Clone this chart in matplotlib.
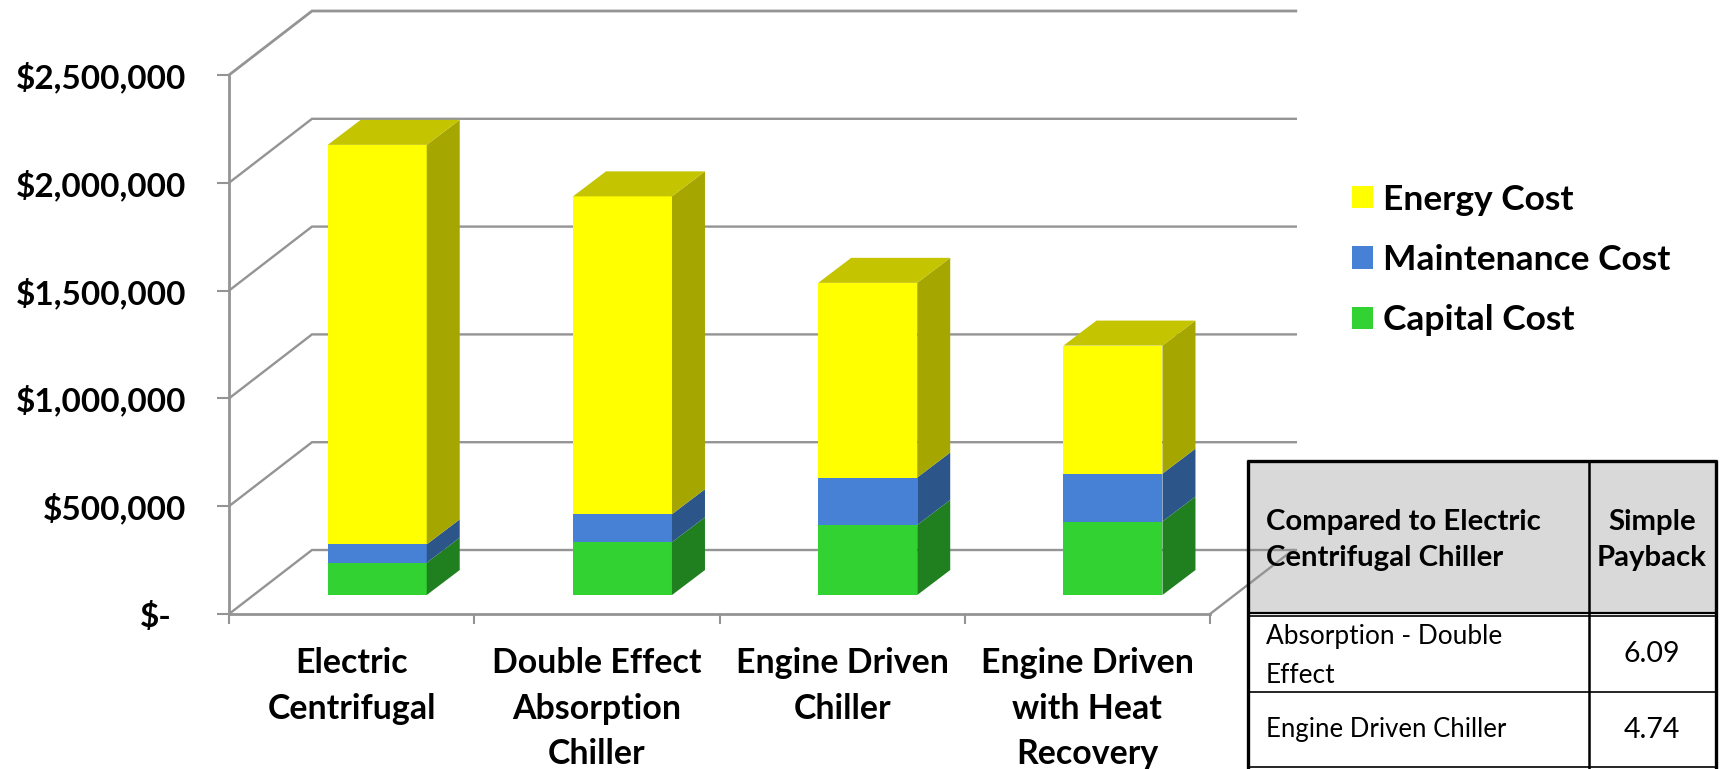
import matplotlib
matplotlib.use('Agg')
import matplotlib.pyplot as plt
from matplotlib.patches import Polygon, Rectangle
from matplotlib.transforms import Affine2D

categories = ['Electric\nCentrifugal', 'Double Effect\nAbsorption\nChiller',
              'Engine Driven\nChiller', 'Engine Driven\nwith Heat\nRecovery']
capital = [150000, 245000, 325000, 341000]
maintenance = [85000, 130000, 220000, 222000]
energy = [1853000, 1474000, 903000, 594000]
y_ticks = [0, 500000, 1000000, 1500000, 2000000, 2500000]
y_labels = ['$-', '$500,000', '$1,000,000', '$1,500,000', '$2,000,000', '$2,500,000']

table_header = ['Compared to Electric\nCentrifugal Chiller', 'Simple\nPayback']
table_names = ['Absorption - Double\nEffect', 'Engine Driven Chiller']
table_payback = ['6.09', '4.74']

FONT = 'Lato'
W, H = 1725, 769
GRID = '#949494'
SERIES = [('Capital Cost', capital, '#31D231', '#208020'),
          ('Maintenance Cost', maintenance, '#4781D5', '#2C5689'),
          ('Energy Cost', energy, '#FFFF00', '#A6A600')]

plt.rcParams['font.family'] = FONT
fig = plt.figure(figsize=(W / 100, H / 100), dpi=100)
ax = fig.add_axes([229 / W, (H - 614) / H, 981 / W, 539 / H])
ax.set_xlim(0, 4)
ax.set_ylim(0, 2500000)
ax.patch.set_alpha(0)

# pixel coordinates of the reference, for the table
px = Affine2D().scale(1, -1).translate(0, H)

# depth of the 3d look, in data units
wall_dx = 83 / 245.25
wall_dy = 64 / 539 * 2500000
bar_dx = 33 / 245.25
bar_dy = 25 / 539 * 2500000
bar_w = 99 / 245.25
bar_shift = 25.6 / 245.25
floor = 88000

# table header background goes under the gridlines
ax.add_patch(Rectangle((1248, 461), 468, 152, transform=px, fc='#D9D9D9', ec='none',
                       clip_on=False, zorder=0))

# walls
for v in y_ticks:
    lw = 2.0 if v == y_ticks[-1] else 1.7
    ax.plot([0, wall_dx, 4.35], [v, v + wall_dy, v + wall_dy], color=GRID, lw=lw,
            clip_on=False, zorder=1, solid_joinstyle='miter')
ax.plot([4, 4 + wall_dx], [0, wall_dy], color=GRID, lw=1.7, clip_on=False, zorder=1)

# bars
centers = [i + 0.5 + bar_shift for i in range(4)]
bottoms = [floor] * 4
handles = []
for name, vals, col, dark in SERIES:
    h = ax.bar(centers, vals, bar_w, bottom=bottoms, color=col, label=name, zorder=3)
    handles.append(h)
    for c, b, v in zip(centers, bottoms, vals):
        r = c + bar_w / 2
        ax.add_patch(Polygon([(r, b), (r + bar_dx, b + bar_dy),
                              (r + bar_dx, b + v + bar_dy), (r, b + v)],
                             fc=dark, ec='none', zorder=3, clip_on=False))
    bottoms = [b + v for b, v in zip(bottoms, vals)]
for c, t in zip(centers, bottoms):
    l = c - bar_w / 2
    r = c + bar_w / 2
    ax.add_patch(Polygon([(l, t), (r, t), (r + bar_dx, t + bar_dy), (l + bar_dx, t + bar_dy)],
                         fc='#C4C400', ec='none', zorder=3, clip_on=False))

# axes
for s in ['top', 'right']:
    ax.spines[s].set_visible(False)
for s in ['left', 'bottom']:
    ax.spines[s].set_color(GRID)
    ax.spines[s].set_linewidth(2.0)
ax.set_yticks(y_ticks, y_labels, fontsize=24, fontweight='bold', color='black')
ax.tick_params(axis='y', length=8.5, width=1.5, color=GRID, pad=22.5)
ax.yaxis.get_major_ticks()[0].set_pad(33)
ax.set_xticks(range(5), [''] * 5)
ax.tick_params(axis='x', which='major', length=7.5, width=1.5, color=GRID)
ax.set_xticks([i + 0.5 for i in range(4)], categories, minor=True, fontsize=24.4,
              fontweight='bold', linespacing=1.52)
ax.tick_params(axis='x', which='minor', length=0, pad=24)

leg = ax.legend(handles[::-1], [s[0] for s in SERIES][::-1], loc='center left',
                bbox_to_anchor=(1352, 260), bbox_transform=px, frameon=False,
                handlelength=0.59, handleheight=0.59, handletextpad=0.28,
                labelspacing=0.8, borderpad=0, borderaxespad=0,
                prop={'weight': 'bold', 'size': 25.5})

# payback table
def tline(x0, y0, x1, y1, lw):
    ax.plot([x0, x1], [y0, y1], transform=px, color='black', lw=lw, clip_on=False,
            zorder=4, solid_capstyle='butt')

tline(1247, 461, 1717, 461, 2.4)
tline(1248, 460, 1248, H, 2.4)
tline(1716, 460, 1716, H, 2.4)
tline(1589, 461, 1589, H, 1.8)
tline(1248, 612.5, 1716, 612.5, 1.6)
tline(1248, 616, 1716, 616, 1.2)
tline(1248, 692, 1716, 692, 1.2)
tline(1248, 767, 1716, 767, 1.2)

ax.text(1266, 540, table_header[0], transform=px, fontsize=21.2, fontweight='bold',
        va='center', ha='left', linespacing=1.5, zorder=5)
ax.text(1652, 540, table_header[1], transform=px, fontsize=21.2, fontweight='bold',
        va='center', ha='center', linespacing=1.5, zorder=5)
ax.text(1266, 656, table_names[0], transform=px, fontsize=18.9, va='center', ha='left',
        linespacing=1.7, zorder=5)
ax.text(1266, 730, table_names[1], transform=px, fontsize=18.5, va='center', ha='left', zorder=5)
ax.text(1652, 654, table_payback[0], transform=px, fontsize=20.5, va='center', ha='center', zorder=5)
ax.text(1652, 730, table_payback[1], transform=px, fontsize=20.5, va='center', ha='center', zorder=5)

fig.savefig('out.png', dpi=100)
